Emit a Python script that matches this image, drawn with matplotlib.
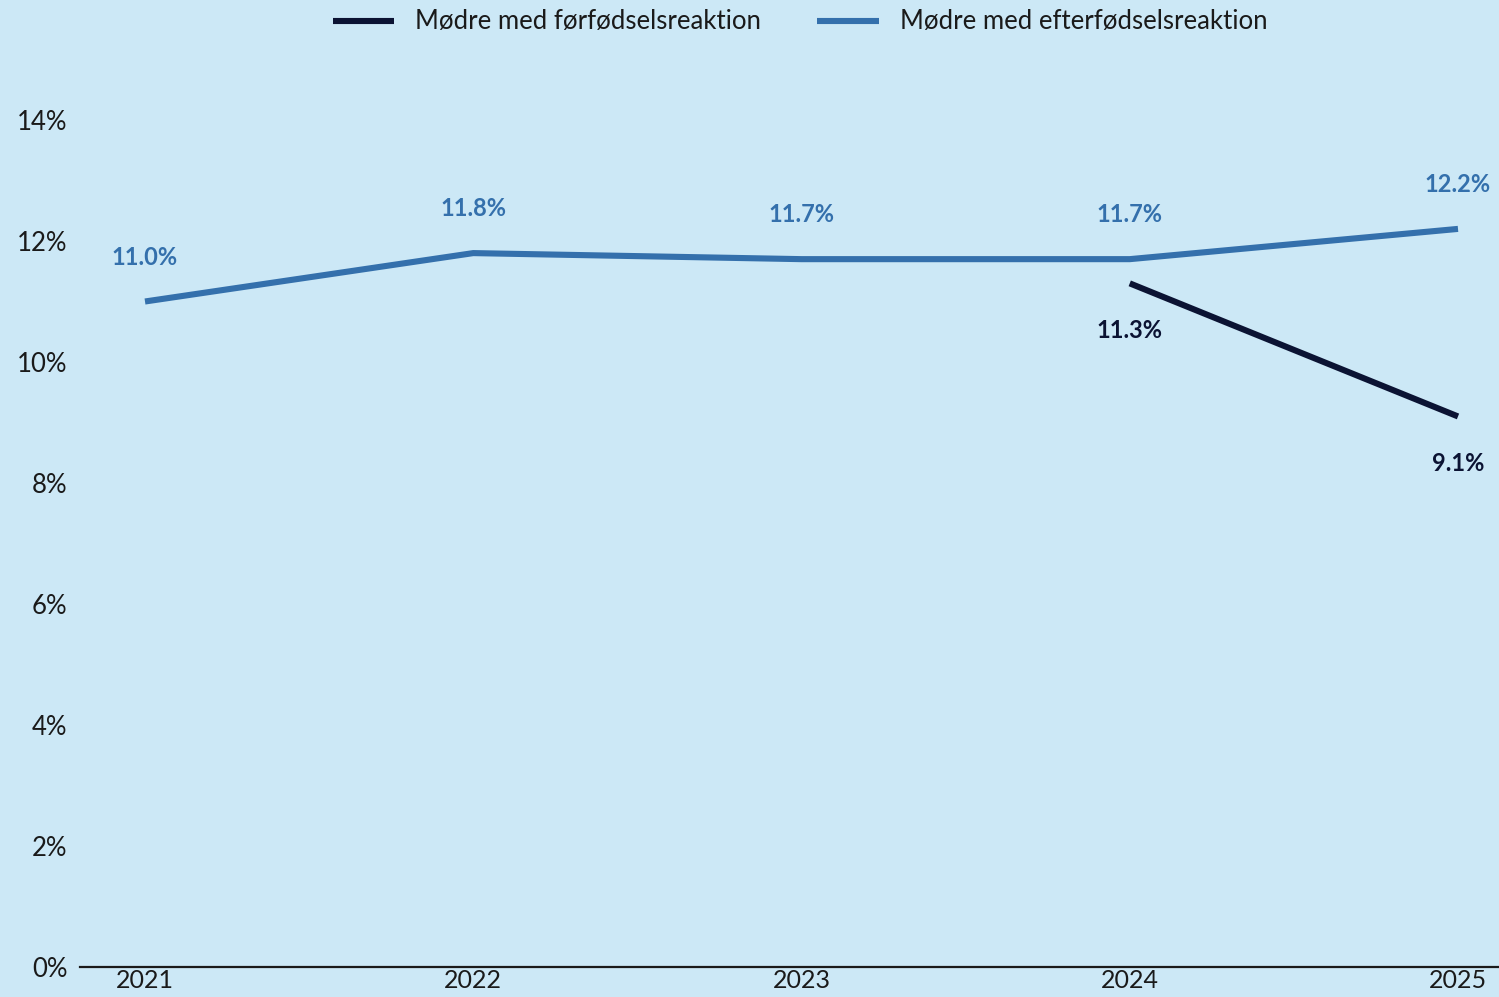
import matplotlib

matplotlib.use("Agg")
import matplotlib.pyplot as plt
from matplotlib.ticker import FuncFormatter

YEARS = [2021, 2022, 2023, 2024, 2025]
EFTER = [11.0, 11.8, 11.7, 11.7, 12.2]
FOER_YEARS = [2024, 2025]
FOER = [11.3, 9.1]
Y_TICKS = [0, 2, 4, 6, 8, 10, 12, 14]

BG = "#cce8f6"
BLUE = "#3470ac"
DARK = "#0b1333"
INK = "#1a1a1a"

plt.rcParams["font.family"] = ["Lato", "DejaVu Sans"]

fig = plt.figure(figsize=(14.99, 9.97), dpi=100)
fig.patch.set_facecolor(BG)
ax = fig.add_axes([80 / 1499, 30 / 997, 1 - 80 / 1499, (967 - 120) / 997])
ax.set_facecolor(BG)

ax.plot(FOER_YEARS, FOER, color=DARK, linewidth=4.4, solid_capstyle="butt",
        label="Mødre med førfødselsreaktion", clip_on=False)
ax.plot(YEARS, EFTER, color=BLUE, linewidth=4.4, solid_capstyle="butt",
        label="Mødre med efterfødselsreaktion", clip_on=False)

for x, y in zip(YEARS, EFTER):
    ax.annotate(f"{y:.1f}%", xy=(x, y), xytext=(0, 32), textcoords="offset points",
                ha="center", va="center", fontsize=17, fontweight="bold", color=BLUE)
for x, y in zip(FOER_YEARS, FOER):
    ax.annotate(f"{y:.1f}%", xy=(x, y), xytext=(0, -34), textcoords="offset points",
                ha="center", va="center", fontsize=17, fontweight="bold", color=DARK)

ax.set_xlim(2021 - 65 / 328.25, 2025 + 41 / 328.25)
ax.set_ylim(0, 14)
ax.set_xticks(YEARS)
ax.set_xticklabels([str(y) for y in YEARS])
ax.set_yticks(Y_TICKS)
ax.yaxis.set_major_formatter(FuncFormatter(lambda v, _: f"{v:.0f}%"))
ax.tick_params(axis="both", length=0, labelsize=18.5, colors=INK)
ax.tick_params(axis="x", pad=1.5, labelsize=18)
ax.tick_params(axis="y", pad=9)

for s in ("top", "right", "left"):
    ax.spines[s].set_visible(False)
ax.spines["bottom"].set_color(INK)
ax.spines["bottom"].set_linewidth(1.6)

fig.legend(loc="center", bbox_to_anchor=(800 / 1499, 1 - 22 / 997), ncol=2,
           frameon=False, fontsize=18.5, handlelength=2.4, handletextpad=0.8,
           columnspacing=2.2, labelcolor=INK)

fig.savefig("out.png", dpi=100, facecolor=fig.get_facecolor())
